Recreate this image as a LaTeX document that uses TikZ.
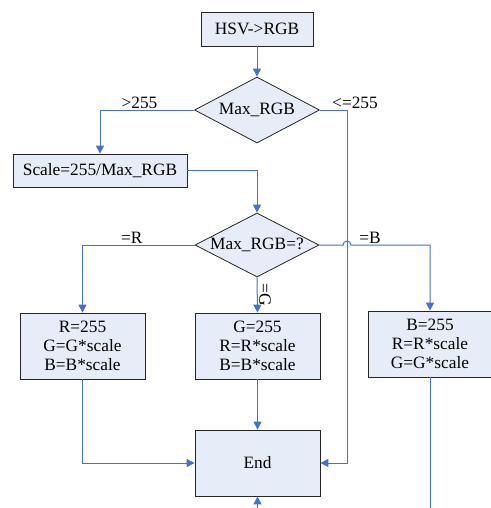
\documentclass[tikz,border=0pt]{standalone}
\usepackage{fontspec}
\setmainfont{Liberation Serif}
\usetikzlibrary{arrows.meta, shapes.geometric}
\definecolor{flow}{RGB}{68,114,196}
\definecolor{boxfill}{RGB}{231,237,248}

\begin{document}
\begin{tikzpicture}[x=0.75pt,y=-0.75pt,
	box/.style={draw=black!85,line width=0.6pt,fill=boxfill,font=\fontsize{13}{14}\selectfont,align=center,inner sep=0pt},
	test/.style={box,shape=diamond,aspect=1.94},
	link/.style={flow,line width=0.75pt},
	go/.style={link,-{Triangle[length=6pt,width=6pt]}},
	lbl/.style={text=black,font=\fontsize{13}{14}\selectfont,inner sep=1pt}]
	\useasboundingbox (0,0) rectangle (491,508);
	% boxes and tests
	\node[box,minimum width=84pt,minimum height=25.5pt] (hsv) at (257,29) {HSV->RGB};
	\node[test,minimum width=93.75pt,minimum height=49.5pt] (maxrgb) at (257,110) {Max\_RGB};
	\node[box,minimum width=130.5pt,minimum height=24.75pt] (scale) at (100,170.5) {Scale=255/Max\_RGB};
	\node[test,minimum width=93pt,minimum height=48pt] (which) at (257,245) {Max\_RGB=?};
	\node[box,minimum width=93.75pt,minimum height=49.5pt] (rbox) at (82.5,346) {R=255\\G=G*scale\\B=B*scale};
	\node[box,minimum width=93.75pt,minimum height=49.5pt] (gbox) at (257.5,346) {G=255\\R=R*scale\\B=B*scale};
	\node[box,minimum width=92.25pt,minimum height=49.5pt] (bbox) at (430,344) {B=255\\R=R*scale\\G=G*scale};
	\node[box,minimum width=93.75pt,minimum height=49.5pt] (endbox) at (257.5,463) {End};
	% free ends
	\coordinate (rjoin) at (347,463);
	\coordinate (bout) at (430,520);
	\coordinate (endin) at (257.5,520);
	% connectors
	\draw[go] (hsv) -- (maxrgb);
	\draw[go] (maxrgb.west) -| (scale.north) node[lbl,pos=0.29,above]{>255};
	\draw[go] (maxrgb.east) -| (rjoin) node[lbl,pos=0.5,above,xshift=6pt]{<=255} -- (endbox.east);
	\draw[go] (scale.east) -| (which.north);
	\draw[go] (which.west) -| (rbox.north) node[lbl,pos=0.28,above]{=R};
	\draw[go] (which.south) -- (gbox.north) node[lbl,midway,rotate=-90,anchor=south]{=G};
	\draw[go] (which.east) -- ([xshift=-3pt]which.east -| rjoin) arc[start angle=180,end angle=360,radius=4]
		-- (which.east -| bbox.north) node[lbl,pos=0.24,above]{=B} -- (bbox.north);
	\draw[go] (rbox.south) |- (endbox.west);
	\draw[go] (gbox) -- (endbox);
	\draw[link] (bbox.south) -- (bout);
	\draw[go] (endin) -- (endbox.south);
\end{tikzpicture}
\end{document}
